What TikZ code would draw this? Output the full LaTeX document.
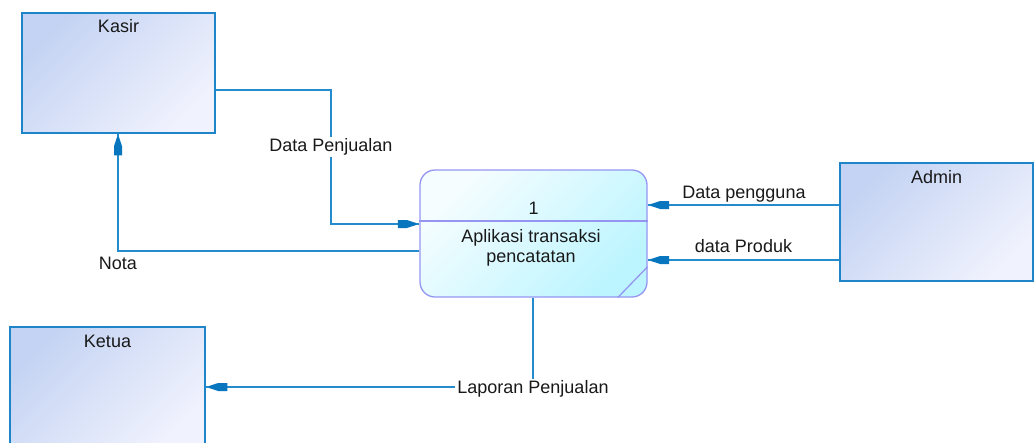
\documentclass[tikz,border=0pt]{standalone}
\usepackage{fontspec}
\setmainfont{Liberation Sans}
\usetikzlibrary{arrows.meta,calc}

\definecolor{entityedge}{RGB}{30,134,200}
\definecolor{entitytop}{RGB}{196,211,243}
\definecolor{entitybot}{RGB}{240,242,253}
\definecolor{procedge}{RGB}{150,150,242}
\definecolor{proctop}{RGB}{246,253,255}
\definecolor{procbot}{RGB}{188,245,255}
\definecolor{flowline}{RGB}{36,140,204}
\definecolor{flowtip}{RGB}{8,118,190}
\definecolor{txt}{RGB}{25,25,25}

% data-flow arrow head: a short block followed by a tapering point
\pgfdeclarearrow{
  name=FlowTip,
  setup code={
    \pgfarrowssettipend{0pt}
    \pgfarrowssetbackend{-18.5pt}
    \pgfarrowssetlineend{-10pt}
    \pgfarrowshullpoint{0pt}{0pt}
    \pgfarrowsupperhullpoint{-18.5pt}{4pt}
  },
  drawing code={
    \pgfpathmoveto{\pgfqpoint{0pt}{0.9pt}}
    \pgfpathlineto{\pgfqpoint{-9.5pt}{4pt}}
    \pgfpathlineto{\pgfqpoint{-18.5pt}{4pt}}
    \pgfpathlineto{\pgfqpoint{-18.5pt}{-4pt}}
    \pgfpathlineto{\pgfqpoint{-9.5pt}{-4pt}}
    \pgfpathlineto{\pgfqpoint{0pt}{-0.9pt}}
    \pgfpathclose
    \pgfsetfillcolor{flowtip}
    \pgfusepathqfill
  },
}

\tikzset{
  entity/.style={draw=entityedge, line width=1.5pt, shading=axis,
    top color=entitytop, bottom color=entitybot, shading angle=45,
    minimum width=193pt, minimum height=120pt, inner sep=0pt},
  process/.style={draw=procedge, line width=1.3pt, rounded corners=15pt,
    shading=axis, top color=proctop, bottom color=procbot, shading angle=45,
    minimum width=227pt, minimum height=127pt, inner sep=0pt},
  title/.style={text=txt, inner sep=0pt, text height=12.5pt, text depth=3.5pt},
  flowlabel/.style={text=txt, fill=white, inner sep=2pt, text height=12.5pt, text depth=3.5pt},
  flow/.style={draw=flowline, line width=1.6pt,
    postaction={draw=flowline, line width=1.6pt, shorten >=3pt, -{FlowTip}}},
}

\begin{document}
\begin{tikzpicture}[x=1pt, y=-1pt, font=\fontsize{18}{20.5}\selectfont]
  \clip (0,0) rectangle (1035,442);
  \fill[white] (0,0) rectangle (1035,442);

  % external entities
  \node[entity] (kasir) at (118.5,73) {};
  \node[title] (kasirT) at ($(kasir.north)+(0,16)$) {Kasir};

  \node[entity, minimum height=118pt] (admin) at (936.5,222) {};
  \node[title] (adminT) at ($(admin.north)+(0,17)$) {Admin};

  \node[entity, minimum width=195pt] (ketua) at (107.5,387) {};
  \node[title] (ketuaT) at ($(ketua.north)+(0,17)$) {Ketua};

  % process
  \node[process] (proc) at (533.5,233.5) {};
  \draw[procedge, line width=1.3pt] (proc.west |- 0,221) -- (proc.east |- 0,221);
  \draw[procedge, line width=1.3pt] ($(proc.south east)+(-30,0)$) -- ($(proc.south east)+(0,-31)$);
  \node[title] (procid) at (533.5,210) {1};
  \node[text=txt, inner sep=0pt, align=center] (proctext) at (531,248)
    {Aplikasi transaksi\\pencatatan};

  % bend points of the flows
  \coordinate (dpA) at (331,90);
  \coordinate (dpB) at (331,224);
  \coordinate (notaC) at (118,251);
  \coordinate (lapC) at (533,387);
  \coordinate (pgY) at (0,205);
  \coordinate (prY) at (0,260);

  % data flows
  \draw[flow] (kasir.east |- dpA) -- (dpA) -- (dpB) -- (proc.west |- dpB);
  \node[flowlabel] (dpL) at (331,147) {Data Penjualan};

  \draw[flow] (proc.west |- notaC) -- (notaC) -- (kasir.south -| notaC);
  \node[title] (notaL) at (118,265) {Nota};

  \draw[flow] (admin.west |- pgY) -- (proc.east |- pgY);
  \node[title] (pgL) at (744,194) {Data pengguna};

  \draw[flow] (admin.west |- prY) -- (proc.east |- prY);
  \node[title] (prL) at (743.5,248) {data Produk};

  \draw[flow] (proc.south -| lapC) -- (lapC) -- (ketua.east |- lapC);
  \node[flowlabel] (lapL) at (533,389) {Laporan Penjualan};
\end{tikzpicture}
\end{document}
